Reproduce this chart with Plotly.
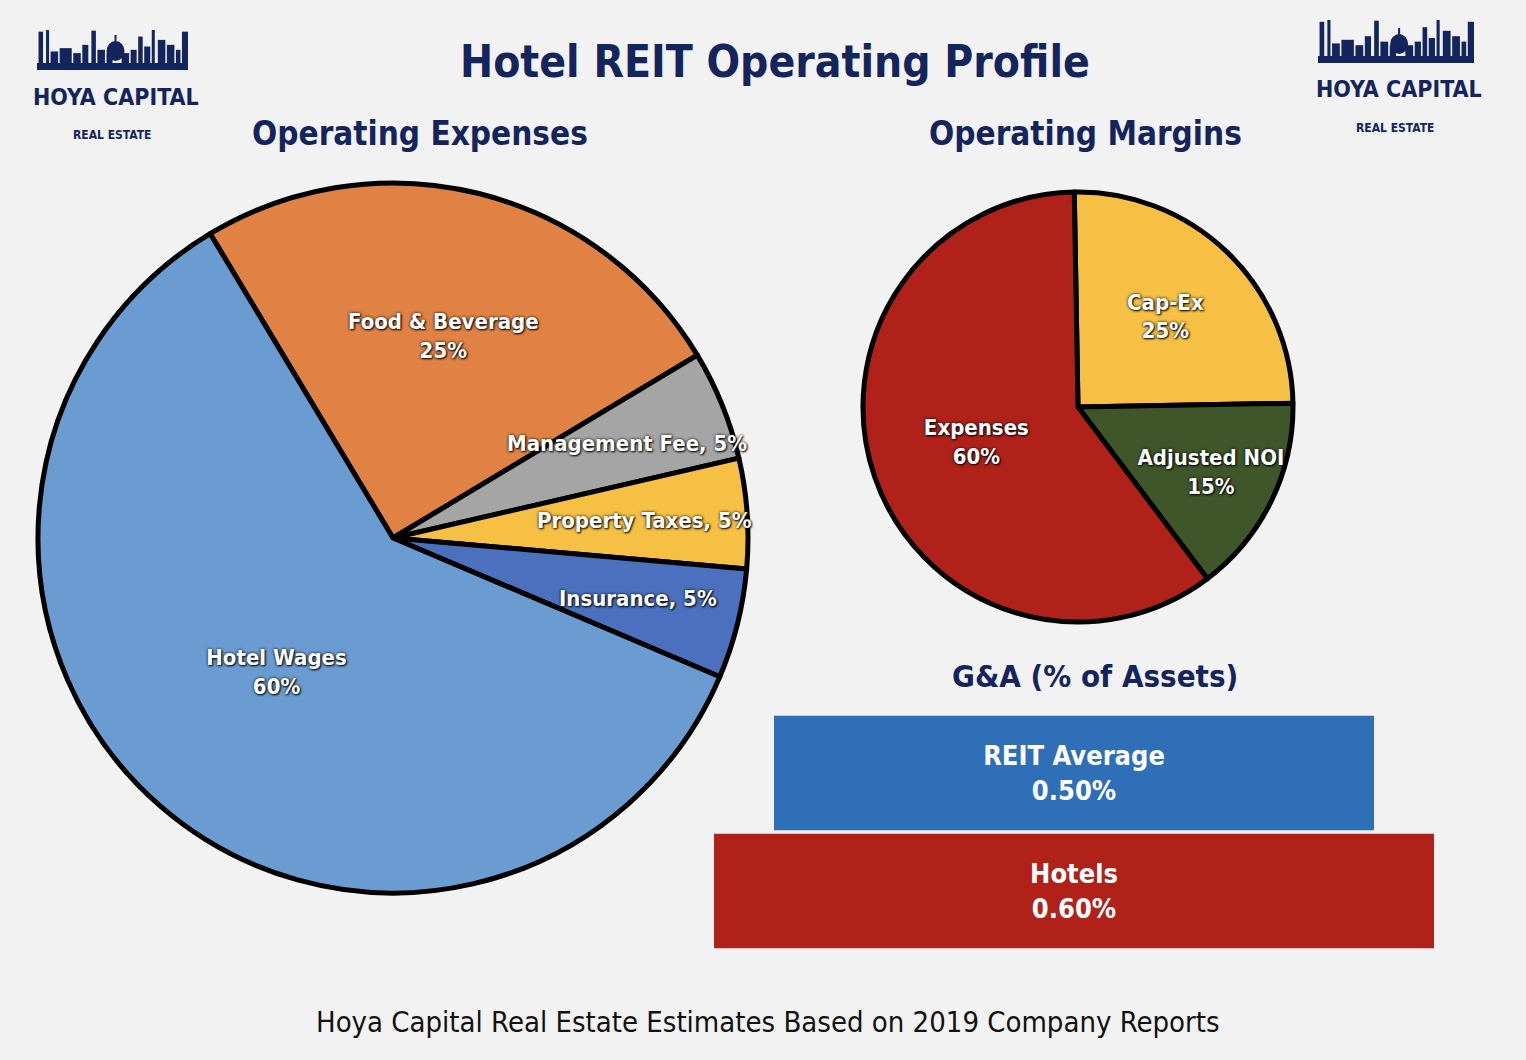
import math
import plotly.graph_objects as go

W, H = 1526, 1060

# ---------------- data ----------------
exp_labels = ["Food & Beverage", "Management Fee", "Property Taxes", "Insurance", "Hotel Wages"]
exp_values = [25, 5, 5, 5, 60]
exp_colors = ["#e08243", "#a5a5a5", "#f5c044", "#4a70be", "#6a9bd1"]
exp_small = [False, True, True, True, False]

mar_labels = ["Cap-Ex", "Adjusted NOI", "Expenses"]
mar_values = [25, 15, 60]
mar_colors = ["#f5c044", "#3e5629", "#b02219"]

ga_labels = ["REIT Average", "Hotels"]
ga_values = [0.50, 0.60]
ga_colors = ["#2e6fb7", "#b02219"]

NAVY = "#14245c"
BG = "#f2f2f2"
FONT_B = "DejaVu Sans Condensed, sans-serif"
FONT_R = "DejaVu Sans Condensed, sans-serif"
SHADOW = "0px 0px 3px rgba(0,0,0,0.95), 1px 1px 2px rgba(0,0,0,0.9)"


def px(x):
    return x / W


def py(y):
    return 1 - y / H


# pie geometry (pixels)
L_CX, L_CY, L_R = 393, 538, 355
R_CX, R_CY, R_R = 1078, 407, 215
L_ROT, R_ROT = -31, -1
LBL = 22

fig = go.Figure()

fig.add_trace(go.Pie(
    labels=exp_labels, values=exp_values, sort=False, direction="clockwise",
    rotation=L_ROT,
    marker=dict(colors=exp_colors, line=dict(color="#000000", width=5)),
    texttemplate=["" if s else "%{label}<br>%{value}%" for s in exp_small],
    textposition="inside", insidetextorientation="horizontal",
    textfont=dict(family=FONT_B, size=LBL, color="white", weight="bold", shadow=SHADOW),
    domain=dict(x=[px(L_CX - L_R), px(L_CX + L_R)], y=[py(L_CY + L_R), py(L_CY - L_R)]),
    showlegend=False, hoverinfo="label+value",
))

fig.add_trace(go.Pie(
    labels=mar_labels, values=mar_values, sort=False, direction="clockwise",
    rotation=R_ROT,
    marker=dict(colors=mar_colors, line=dict(color="#000000", width=5)),
    texttemplate="%{label}<br>%{value}%",
    textposition="inside", insidetextorientation="horizontal",
    textfont=dict(family=FONT_B, size=LBL, color="white", weight="bold", shadow=SHADOW),
    domain=dict(x=[px(R_CX - R_R), px(R_CX + R_R)], y=[py(R_CY + R_R), py(R_CY - R_R)]),
    showlegend=False, hoverinfo="label+value",
))

fig.add_trace(go.Bar(
    y=ga_labels, x=ga_values, base=[-v / 2 for v in ga_values], orientation="h",
    marker=dict(color=ga_colors, line=dict(width=0)),
    texttemplate="%{y}<br>%{x:.2f}%", textposition="inside", insidetextanchor="middle",
    textangle=0,
    textfont=dict(family=FONT_B, size=27, color="white", weight="bold"),
    showlegend=False, hoverinfo="y+x",
))

annotations = []

# labels for the thin slices of the expense pie, placed along each slice's mid-angle
total = sum(exp_values)
cum = 0
for lab, v, small in zip(exp_labels, exp_values, exp_small):
    mid = math.radians(L_ROT + 360 * (cum + v / 2) / total)
    cum += v
    if not small:
        continue
    r = 0.71 * L_R
    x = L_CX + r * math.sin(mid)
    y = L_CY - r * math.cos(mid)
    annotations.append(dict(
        x=px(x), y=py(y), xref="paper", yref="paper", showarrow=False,
        text=f"{lab}, {v}%",
        font=dict(family=FONT_B, size=LBL, color="white", weight="bold", shadow=SHADOW),
    ))


def txt(text, x, y, size, color=NAVY, weight="bold", family=FONT_B):
    annotations.append(dict(
        x=px(x), y=py(y), xref="paper", yref="paper", showarrow=False,
        xanchor="center", yanchor="middle", text=text,
        font=dict(family=family, size=size, color=color, weight=weight),
    ))


txt("Hotel REIT Operating Profile", 775, 62, 44)
txt("Operating Expenses", 420, 133, 33)
txt("Operating Margins", 1085, 133, 33)
txt("G&A (% of Assets)", 1095, 676, 31)
txt("Hoya Capital Real Estate Estimates Based on 2019 Company Reports", 768, 1022, 29,
    color="#111111", weight="normal", family=FONT_R)

# ---------------- logos ----------------
shapes = []
# skyline silhouette: (relative x, width, top as fraction of skyline height)
towers = [(0.01, 0.03, 0.05), (0.06, 0.02, 0.0), (0.09, 0.05, 0.65), (0.15, 0.08, 0.55),
          (0.24, 0.05, 0.70), (0.30, 0.04, 0.45), (0.36, 0.03, 0.02), (0.40, 0.05, 0.60),
          (0.46, 0.04, 0.70), (0.56, 0.05, 0.70), (0.62, 0.04, 0.60), (0.67, 0.03, 0.20),
          (0.71, 0.04, 0.50), (0.76, 0.02, 0.0), (0.80, 0.05, 0.30), (0.86, 0.05, 0.45),
          (0.92, 0.03, 0.60), (0.96, 0.04, 0.05)]


def logo(x0, x1, ytop, yband, ytext, yre):
    width = x1 - x0
    hsky = yband - ytop
    shapes.append(dict(type="rect", xref="paper", yref="paper", x0=px(x0), x1=px(x1),
                       y0=py(yband + 7), y1=py(yband), fillcolor=NAVY, line=dict(width=0)))
    for rx, rw, top in towers:
        shapes.append(dict(type="rect", xref="paper", yref="paper",
                           x0=px(x0 + rx * width), x1=px(x0 + (rx + rw) * width),
                           y0=py(yband), y1=py(ytop + top * hsky),
                           fillcolor=NAVY, line=dict(width=0)))
    # capitol dome
    cx = x0 + 0.52 * width
    shapes.append(dict(type="circle", xref="paper", yref="paper",
                       x0=px(cx - 9), x1=px(cx + 9), y0=py(yband - 2), y1=py(yband - 22),
                       fillcolor=NAVY, line=dict(width=0)))
    shapes.append(dict(type="rect", xref="paper", yref="paper",
                       x0=px(cx - 1), x1=px(cx + 1), y0=py(yband - 20), y1=py(yband - 28),
                       fillcolor=NAVY, line=dict(width=0)))
    txt("HOYA CAPITAL", (x0 + x1) / 2 + 3, ytext, 23)
    txt("REAL ESTATE", (x0 + x1) / 2 - 1, yre, 12)


logo(37, 188, 30, 63, 97, 135)
logo(1318, 1474, 20, 56, 89, 128)

fig.update_layout(
    width=W, height=H,
    margin=dict(l=0, r=0, t=0, b=0),
    paper_bgcolor=BG, plot_bgcolor=BG,
    annotations=annotations, shapes=shapes,
    uniformtext=dict(minsize=LBL, mode="show"),
    bargap=0.03,
    xaxis=dict(domain=[px(714), px(1434)], range=[-0.3, 0.3], visible=False, fixedrange=True),
    yaxis=dict(domain=[py(950), py(714)], autorange="reversed", visible=False, fixedrange=True,
               type="category"),
)

fig.write_html(
    "out.html",
    config={"displayModeBar": False},
    post_script="document.body.style.margin='0';document.body.style.background='#f2f2f2';",
)
